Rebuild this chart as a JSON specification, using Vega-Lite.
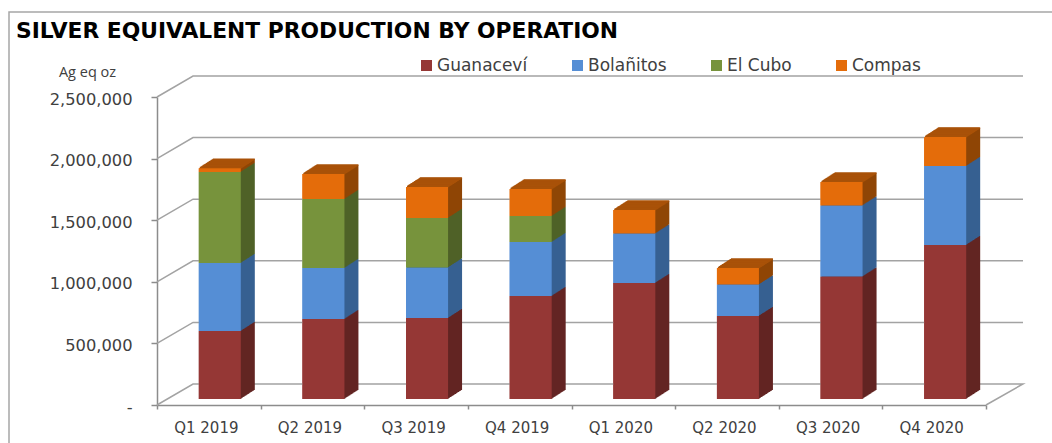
{"$schema":"https://vega.github.io/schema/vega-lite/v6.json","width":866,"height":329,"autosize":"none","padding":{"left":157,"top":76,"right":29,"bottom":38},"background":"white",
"config":{"view":{"stroke":null},"font":"DejaVu Sans"},
"title":{"text":"SILVER EQUIVALENT PRODUCTION BY OPERATION","anchor":"start","frame":"group","font":"DejaVu Sans","fontSize":21.8,"fontWeight":"bold","color":"#000000","dx":-141,"offset":-34},
"datasets":{
"production":[
{"quarter":"Q1 2019","series":"Guanaceví","rank":1,"value":552000},{"quarter":"Q1 2019","series":"Bolañitos","rank":2,"value":552000},{"quarter":"Q1 2019","series":"El Cubo","rank":3,"value":739000},{"quarter":"Q1 2019","series":"Compas","rank":4,"value":30000},
{"quarter":"Q2 2019","series":"Guanaceví","rank":1,"value":649000},{"quarter":"Q2 2019","series":"Bolañitos","rank":2,"value":414000},{"quarter":"Q2 2019","series":"El Cubo","rank":3,"value":560000},{"quarter":"Q2 2019","series":"Compas","rank":4,"value":203000},
{"quarter":"Q3 2019","series":"Guanaceví","rank":1,"value":657000},{"quarter":"Q3 2019","series":"Bolañitos","rank":2,"value":410000},{"quarter":"Q3 2019","series":"El Cubo","rank":3,"value":402000},{"quarter":"Q3 2019","series":"Compas","rank":4,"value":252000},
{"quarter":"Q4 2019","series":"Guanaceví","rank":1,"value":836000},{"quarter":"Q4 2019","series":"Bolañitos","rank":2,"value":438000},{"quarter":"Q4 2019","series":"El Cubo","rank":3,"value":211000},{"quarter":"Q4 2019","series":"Compas","rank":4,"value":220000},
{"quarter":"Q1 2020","series":"Guanaceví","rank":1,"value":942000},{"quarter":"Q1 2020","series":"Bolañitos","rank":2,"value":401000},{"quarter":"Q1 2020","series":"Compas","rank":4,"value":191000},
{"quarter":"Q2 2020","series":"Guanaceví","rank":1,"value":674000},{"quarter":"Q2 2020","series":"Bolañitos","rank":2,"value":255000},{"quarter":"Q2 2020","series":"Compas","rank":4,"value":134000},
{"quarter":"Q3 2020","series":"Guanaceví","rank":1,"value":994000},{"quarter":"Q3 2020","series":"Bolañitos","rank":2,"value":577000},{"quarter":"Q3 2020","series":"Compas","rank":4,"value":190000},
{"quarter":"Q4 2020","series":"Guanaceví","rank":1,"value":1250000},{"quarter":"Q4 2020","series":"Bolañitos","rank":2,"value":641000},{"quarter":"Q4 2020","series":"Compas","rank":4,"value":236000}
],
"grid":[
{"line":"floor","u":0,"v":0},{"line":"floor","u":0.0416,"v":170455},{"line":"floor","u":1,"v":170455},{"line":"floor","u":0.9573,"v":0},
{"line":"g500","u":0,"v":500000},{"line":"g500","u":0.0416,"v":670455},{"line":"g500","u":1,"v":670455},
{"line":"g1000","u":0,"v":1000000},{"line":"g1000","u":0.0416,"v":1170455},{"line":"g1000","u":1,"v":1170455},
{"line":"g1500","u":0,"v":1500000},{"line":"g1500","u":0.0416,"v":1670455},{"line":"g1500","u":1,"v":1670455},
{"line":"g2000","u":0,"v":2000000},{"line":"g2000","u":0.0416,"v":2170455},{"line":"g2000","u":1,"v":2170455},
{"line":"g2500","u":0,"v":2500000},{"line":"g2500","u":0.0416,"v":2670455},{"line":"g2500","u":1,"v":2670455}
],
"frame":[{"u":-0.1709,"v":-310000},{"u":-0.1709,"v":3190000},{"u":1.0335,"v":3190000}]
},
"layer":[
{"data":{"name":"production"},"mark":{"type":"bar","width":42,"xOffset":11,"yOffset":-6,"y2Offset":-6},
"encoding":{"x":{"field":"quarter","type":"nominal","sort":null,"scale":{"range":[0,829],"paddingInner":0,"paddingOuter":0},"axis":{"title":null,"labelAngle":0,"labelFontSize":15,"labelColor":"#404040","labelFont":"DejaVu Sans","labelOffset":-3,"tickBand":"extent","tickSize":4,"tickColor":"#8C8C8C","tickWidth":1.5,"domainColor":"#8C8C8C","domainWidth":1.5,"labelPadding":11}},
"y":{"field":"value","type":"quantitative","stack":"zero","scale":{"domain":[0,2500000],"range":[329,21],"nice":false},"axis":{"title":"Ag eq oz","titleFont":"Open Sans","titleFontWeight":"normal","titleFontSize":14.5,"titleColor":"#404040","titleAngle":0,"titleX":-70,"titleY":3,"titleAlign":"center","values":[0,500000,1000000,1500000,2000000,2500000],"labelExpr":"datum.value === 0 ? '-\u00a0\u00a0' : format(datum.value, ',')","labelFontSize":16.3,"labelColor":"#404040","labelFont":"DejaVu Sans","labelPadding":19,"labelOffset":2,"tickSize":6,"tickColor":"#8C8C8C","tickWidth":1.5,"domainColor":"#8C8C8C","domainWidth":1.5,"grid":false}},"order":{"field":"rank"},"color":{"field":"series","type":"nominal","scale":{"domain":["Guanaceví","Bolañitos","El Cubo","Compas"],"range":["#953735","#558ED5","#77933C","#E46C0A"]},"legend":{"title":null,"orient":"none","legendX":261,"legendY":-19,"direction":"horizontal","columns":4,"gridAlign":"none","columnPadding":41,"symbolType":"square","symbolSize":121,"symbolStrokeWidth":0,"labelFontSize":17,"labelColor":"#404040","labelFont":"DejaVu Sans","labelOffset":2}}}},
{"data":{"name":"frame"},"mark":{"type":"line","color":"#A6A6A6","strokeWidth":1.5,"clip":false},"encoding":{"x":{"field":"u","type":"quantitative","sort":null,"scale":{"domain":[0,1],"nice":false,"zero":false},"axis":null},"y":{"field":"v","type":"quantitative","sort":null},"order":{"field":"u"}}},
{"data":{"name":"grid"},"mark":{"type":"line","color":"#A3A3A3","strokeWidth":1.5},"encoding":{"x":{"field":"u","type":"quantitative","scale":{"domain":[0,1],"nice":false,"zero":false},"axis":null},"y":{"field":"v","type":"quantitative"},"detail":{"field":"line"},"order":{"value":null}}},
{"data":{"name":"production"},
"encoding":{"x":{"field":"quarter","type":"nominal","sort":null,"scale":{"range":[0,829],"paddingInner":0,"paddingOuter":0},"axis":null}},
"layer":[
{"encoding":{"y":{"field":"value","type":"quantitative","stack":"zero"},"order":{"field":"rank"},"fill":{"field":"series","type":"nominal","scale":{"domain":["Guanaceví","Bolañitos","El Cubo","Compas"],"range":["#632523","#376092","#4F6228","#8F4606"]},"legend":null}},
"layer":[
{"mark":{"type":"bar","width":42,"xOffset":25,"yOffset":-15,"y2Offset":-15}},
{"mark":{"type":"bar","width":42,"xOffset":24,"yOffset":-14.3,"y2Offset":-14.3}},
{"mark":{"type":"bar","width":42,"xOffset":23,"yOffset":-13.7,"y2Offset":-13.7}},
{"mark":{"type":"bar","width":42,"xOffset":22,"yOffset":-13,"y2Offset":-13}},
{"mark":{"type":"bar","width":42,"xOffset":21,"yOffset":-12.4,"y2Offset":-12.4}},
{"mark":{"type":"bar","width":42,"xOffset":20,"yOffset":-11.8,"y2Offset":-11.8}},
{"mark":{"type":"bar","width":42,"xOffset":19,"yOffset":-11.1,"y2Offset":-11.1}},
{"mark":{"type":"bar","width":42,"xOffset":18,"yOffset":-10.5,"y2Offset":-10.5}},
{"mark":{"type":"bar","width":42,"xOffset":17,"yOffset":-9.8,"y2Offset":-9.8}},
{"mark":{"type":"bar","width":42,"xOffset":16,"yOffset":-9.2,"y2Offset":-9.2}},
{"mark":{"type":"bar","width":42,"xOffset":15,"yOffset":-8.6,"y2Offset":-8.6}},
{"mark":{"type":"bar","width":42,"xOffset":14,"yOffset":-7.9,"y2Offset":-7.9}},
{"mark":{"type":"bar","width":42,"xOffset":13,"yOffset":-7.3,"y2Offset":-7.3}},
{"mark":{"type":"bar","width":42,"xOffset":12,"yOffset":-6.6,"y2Offset":-6.6}}
]},
{"encoding":{"y":{"aggregate":"sum","field":"value","type":"quantitative","stack":null}},
"layer":[
{"mark":{"type":"tick","size":42,"thickness":1.6,"color":"#A95208","opacity":1,"xOffset":25,"yOffset":-15}},
{"mark":{"type":"tick","size":42,"thickness":1.6,"color":"#A95208","opacity":1,"xOffset":24,"yOffset":-14.3}},
{"mark":{"type":"tick","size":42,"thickness":1.6,"color":"#A95208","opacity":1,"xOffset":23,"yOffset":-13.7}},
{"mark":{"type":"tick","size":42,"thickness":1.6,"color":"#A95208","opacity":1,"xOffset":22,"yOffset":-13}},
{"mark":{"type":"tick","size":42,"thickness":1.6,"color":"#A95208","opacity":1,"xOffset":21,"yOffset":-12.4}},
{"mark":{"type":"tick","size":42,"thickness":1.6,"color":"#A95208","opacity":1,"xOffset":20,"yOffset":-11.8}},
{"mark":{"type":"tick","size":42,"thickness":1.6,"color":"#A95208","opacity":1,"xOffset":19,"yOffset":-11.1}},
{"mark":{"type":"tick","size":42,"thickness":1.6,"color":"#A95208","opacity":1,"xOffset":18,"yOffset":-10.5}},
{"mark":{"type":"tick","size":42,"thickness":1.6,"color":"#A95208","opacity":1,"xOffset":17,"yOffset":-9.8}},
{"mark":{"type":"tick","size":42,"thickness":1.6,"color":"#A95208","opacity":1,"xOffset":16,"yOffset":-9.2}},
{"mark":{"type":"tick","size":42,"thickness":1.6,"color":"#A95208","opacity":1,"xOffset":15,"yOffset":-8.6}},
{"mark":{"type":"tick","size":42,"thickness":1.6,"color":"#A95208","opacity":1,"xOffset":14,"yOffset":-7.9}},
{"mark":{"type":"tick","size":42,"thickness":1.6,"color":"#A95208","opacity":1,"xOffset":13,"yOffset":-7.3}},
{"mark":{"type":"tick","size":42,"thickness":1.6,"color":"#A95208","opacity":1,"xOffset":12,"yOffset":-6.6}}
]}
]},
{"data":{"name":"production"},"mark":{"type":"bar","width":42,"xOffset":11,"yOffset":-6,"y2Offset":-6},
"encoding":{"x":{"field":"quarter","type":"nominal","sort":null,"scale":{"range":[0,829],"paddingInner":0,"paddingOuter":0},"axis":null},
"y":{"field":"value","type":"quantitative","stack":"zero"},"order":{"field":"rank"},"color":{"field":"series","type":"nominal","legend":null}}}
],
"resolve":{"scale":{"x":"independent"}}
}
